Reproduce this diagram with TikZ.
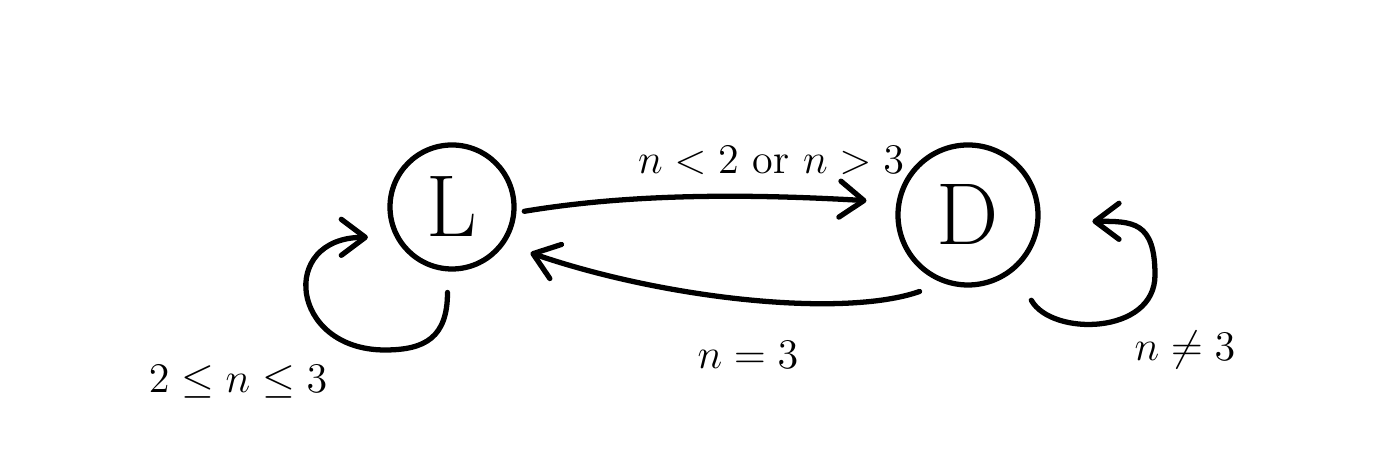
\documentclass[tikz,border=0pt]{standalone}
\usepackage{amsmath,amssymb}
\usepackage{tikz}
\usetikzlibrary{arrows.meta}

\begin{document}
\begin{tikzpicture}[
		state/.style={draw,circle,line width=1.5pt,inner sep=0pt,
			font=\fontsize{25}{28}\selectfont},
		trans/.style={line width=1.5pt,line cap=round,
			-{Straight Barb[length=2.4mm,width=3.6mm,round]}},
		cond/.style={font=\fontsize{12}{14}\selectfont}]
		\useasboundingbox (0,0) rectangle (13.94,4.66);
		% 状态
		\node[state,minimum size=1.24cm] (L) at (4.52,2.59) {L};
		\node[state,minimum size=1.40cm] (D) at (9.68,2.51) {D};
		% 状态之间的转移
		\draw[trans,shorten <=0.8mm,shorten >=3mm] (L.-5)
			.. controls +(1.2,0.2) and +(-1.4,0.08) .. (D.170);
		\draw[trans,shorten <=2.5mm,shorten >=2.7mm] (D.250)
			.. controls +(-1.0,-0.35) and +(1.6,-0.55) .. (L.-35);
		% 自环
		\draw[trans,shorten <=2.1mm,shorten >=2.7mm] (L.266)
			.. controls +(0,-0.66) and +(0.4,0) .. ([shift={(-0.67,-1.43)}]L.center)
			.. controls +(-0.95,0) and +(-1.17,0) .. (L.208);
		\draw[trans,shorten <=3.4mm,shorten >=5.2mm] (D.-50)
			.. controls +(0.37,-0.66) and +(0,-0.6) .. ([shift={(1.87,-0.6)}]D.center)
			.. controls +(0,0.54) and +(0.92,0) .. (D.-5);
		% 转移条件
		\node[cond] (cLD) at (7.71,3.06) {$n<2$ or $n>3$};
		\node[cond] (cDL) at (7.48,1.11) {$n=3$};
		\node[cond] (cLL) at (2.38,0.84) {$2\le n\le 3$};
		\node[cond] (cDD) at (11.85,1.16) {$n\neq 3$};
	\end{tikzpicture}
\end{document}
